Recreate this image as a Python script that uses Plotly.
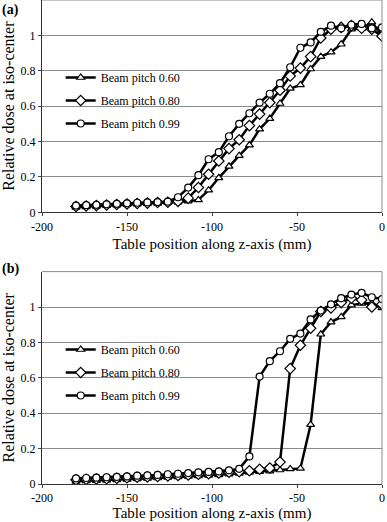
import plotly.graph_objects as go

z_pos = [-180 + 6 * k for k in range(31)]

a_p60 = [0.028, 0.031, 0.034, 0.037, 0.040, 0.043, 0.046, 0.049, 0.051, 0.054,
         0.058, 0.063, 0.070, 0.125, 0.195, 0.26, 0.32, 0.38, 0.47, 0.53,
         0.615, 0.70, 0.72, 0.81, 0.88, 0.905, 0.95, 1.035, 1.04, 1.075, 1.0]
a_p80 = [0.033, 0.036, 0.038, 0.041, 0.044, 0.047, 0.050, 0.052, 0.055, 0.057,
         0.062, 0.080, 0.14, 0.215, 0.29, 0.36, 0.41, 0.49, 0.555, 0.62,
         0.69, 0.77, 0.815, 0.88, 0.985, 1.035, 1.045, 1.055, 1.04, 1.035, 0.995]
a_p99 = [0.038, 0.040, 0.042, 0.045, 0.048, 0.051, 0.054, 0.056, 0.058, 0.060,
         0.085, 0.14, 0.21, 0.30, 0.34, 0.43, 0.50, 0.56, 0.62, 0.67,
         0.73, 0.82, 0.93, 0.96, 1.02, 1.055, 1.04, 1.06, 1.065, 1.04, 1.045]

b_p60 = [0.015, 0.017, 0.019, 0.021, 0.023, 0.026, 0.029, 0.031, 0.034, 0.037,
         0.040, 0.043, 0.046, 0.049, 0.052, 0.056, 0.060, 0.066, 0.070, 0.073,
         0.079, 0.085, 0.088, 0.335, 0.846, 0.915, 0.944, 1.011, 1.02, 1.022, 0.995]
b_p80 = [0.024, 0.026, 0.028, 0.030, 0.032, 0.035, 0.038, 0.040, 0.042, 0.045,
         0.048, 0.051, 0.055, 0.058, 0.062, 0.066, 0.070, 0.075, 0.083, 0.090,
         0.124, 0.652, 0.784, 0.88, 0.975, 0.995, 1.025, 1.05, 1.04, 1.0, 1.015]
b_p99 = [0.032, 0.034, 0.036, 0.038, 0.040, 0.043, 0.047, 0.049, 0.051, 0.055,
         0.058, 0.062, 0.066, 0.068, 0.071, 0.077, 0.086, 0.156, 0.607, 0.694,
         0.75, 0.82, 0.85, 0.93, 0.98, 1.015, 1.05, 1.07, 1.08, 1.055, 1.045]

series_names = ["Beam pitch 0.60", "Beam pitch 0.80", "Beam pitch 0.99"]
symbols = ["triangle-up", "diamond", "circle"]
sizes = [7, 8, 7]

x_ticks = [-200, -150, -100, -50, 0]
x_tick_text = ["-200", "-150", "-100", "-50", "0"]
y_ticks = [0, 0.2, 0.4, 0.6, 0.8, 1.0]
y_tick_text = ["0", "0.2", "0.4", "0.6", "0.8", "1"]

SERIF = "Liberation Serif, Times New Roman, serif"

fig = go.Figure()

panels = [
    ("x", "y", "legend", [a_p60, a_p80, a_p99]),
    ("x2", "y2", "legend2", [b_p60, b_p80, b_p99]),
]
for xa, ya, leg, data in panels:
    for i, (name, sym, sz, vals) in enumerate(zip(series_names, symbols, sizes, data)):
        fig.add_trace(go.Scatter(
            x=z_pos, y=vals, mode="lines+markers", name=name,
            xaxis=xa, yaxis=ya, legend=leg, legendgroup=f"{leg}{i}",
            line=dict(color="black", width=2.5),
            marker=dict(symbol=sym, size=sz,
                        color="white", line=dict(color="black", width=1.2)),
        ))

H_plot = 484.0
dom_a = [(484 - 212.3) / H_plot, 1.0]
dom_b = [0.0, (484 - 271.6) / H_plot]

axis_common_x = dict(
    range=[-200, 0], tickvals=x_ticks, ticktext=x_tick_text, ticks="outside",
    ticklen=3, tickcolor="#444", showline=True, linecolor="#333", linewidth=1,
    showgrid=False, zeroline=False,
    tickfont=dict(family=SERIF, size=12, color="black"),
    title=dict(text="Table position along z-axis (mm)",
               font=dict(family=SERIF, size=15, color="black"), standoff=5),
)
axis_common_y = dict(
    range=[0, 1.2], tickvals=y_ticks, ticktext=y_tick_text, ticks="outside",
    ticklen=3, tickcolor="#444", showline=True, linecolor="#333", linewidth=1,
    showgrid=True, gridcolor="#8c8c8c", gridwidth=1, zeroline=False,
    tickfont=dict(family=SERIF, size=12, color="black"),
    title=dict(text="Relative dose at iso-center",
               font=dict(family=SERIF, size=16, color="black"), standoff=5),
)

legend_common = dict(xanchor="left", yanchor="top", bgcolor="rgba(0,0,0,0)",
                     tracegroupgap=4, itemwidth=30,
                     font=dict(family=SERIF, size=12, color="black"))

fig.update_layout(
    width=387, height=522,
    margin=dict(l=42, r=5, t=0, b=38),
    paper_bgcolor="white", plot_bgcolor="white",
    showlegend=True,
    xaxis=dict(domain=[0, 1], anchor="y", **axis_common_x),
    yaxis=dict(domain=dom_a, anchor="x", **axis_common_y),
    xaxis2=dict(domain=[0, 1], anchor="y2", **axis_common_x),
    yaxis2=dict(domain=dom_b, anchor="x2", **axis_common_y),
    legend=dict(x=0.055, y=(484 - 63) / H_plot, **legend_common),
    legend2=dict(x=0.055, y=(484 - 335) / H_plot, **legend_common),
)

for xr, yr in [("x domain", "y domain"), ("x2 domain", "y2 domain")]:
    fig.add_shape(type="line", xref=xr, yref=yr, x0=1, x1=1, y0=0, y1=1,
                  line=dict(color="#8c8c8c", width=1))
    fig.add_shape(type="line", xref=xr, yref=yr, x0=0, x1=1, y0=1, y1=1,
                  line=dict(color="#8c8c8c", width=1))

fig.add_annotation(text="<b>(a)</b>", xref="paper", yref="paper",
                   x=-42 / 340.0, y=1.0, xanchor="left", yanchor="top",
                   showarrow=False, font=dict(family=SERIF, size=14, color="black"))
fig.add_annotation(text="<b>(b)</b>", xref="paper", yref="paper",
                   x=-42 / 340.0, y=(484 - 259) / H_plot, xanchor="left", yanchor="top",
                   showarrow=False, font=dict(family=SERIF, size=14, color="black"))

fig.write_html("out.html", config={"displayModeBar": False},
               post_script="document.body.style.margin='0';document.body.style.padding='0';")
